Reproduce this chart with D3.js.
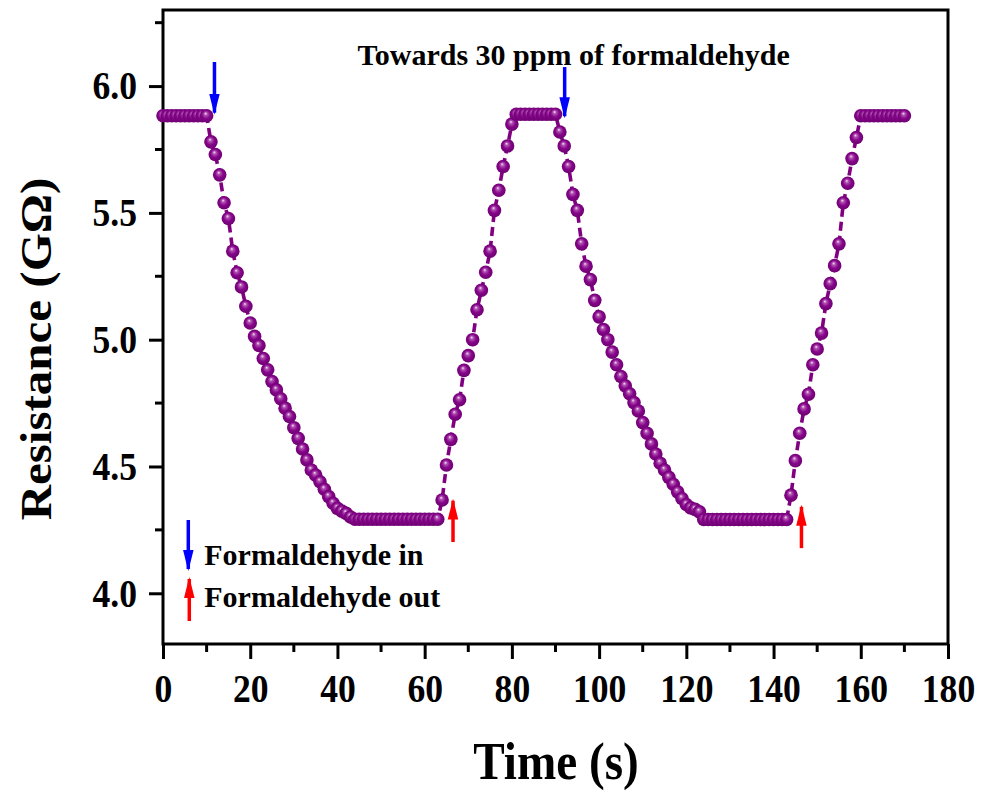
<!DOCTYPE html>
<html>
<head>
<meta charset="utf-8">
<script src="https://cdn.jsdelivr.net/npm/d3@7"></script>
<style>
  html, body { margin: 0; padding: 0; background: #fff; }
  svg { display: block; }
  text { font-family: "Liberation Serif", "Times New Roman", serif; font-weight: bold; fill: #000; }
</style>
</head>
<body>
<svg id="chart" width="982" height="791"></svg>
<script>
// Sensor response: time (s) and resistance (GΩ)
const timeS = [
  0,1,2,3,4,5,6,7,8,9,10,11,12,13,14,15,16,17,18,19,
  20,21,22,23,24,25,26,27,28,29,30,31,32,33,34,35,36,37,38,39,
  40,41,42,43,44,45,46,47,48,49,50,51,52,53,54,55,56,57,58,59,
  60,61,62,63,64,65,66,67,68,69,70,71,72,73,74,75,76,77,78,79,
  80,81,82,83,84,85,86,87,88,89,90,91,92,93,94,95,96,97,98,99,
  100,101,102,103,104,105,106,107,108,109,110,111,112,113,114,115,116,117,118,119,
  120,121,122,123,124,125,126,127,128,129,130,131,132,133,134,135,136,137,138,139,
  140,141,142,143,144,145,146,147,148,149,150,151,152,153,154,155,156,157,158,159,
  160,161,162,163,164,165,166,167,168,169,170
];
const resistanceGOhm = [
  5.883,5.883,5.883,5.883,5.883,5.883,5.883,5.883,5.883,5.883,5.883,
  5.780,5.730,5.650,5.540,5.478,5.349,5.264,5.208,5.132,5.066,
  5.013,4.977,4.926,4.881,4.835,4.802,4.767,4.730,4.697,4.653,
  4.611,4.569,4.526,4.486,4.466,4.440,4.410,4.381,4.355,4.335,
  4.324,4.315,4.301,
  4.292,4.292,4.292,4.292,4.292,4.292,4.292,4.292,4.292,4.292,
  4.292,4.292,4.292,4.292,4.292,4.292,4.292,4.292,4.292,4.292,
  4.368,4.506,4.607,4.706,4.763,4.879,4.937,5.000,5.118,5.195,
  5.266,5.349,5.510,5.589,5.683,5.764,5.850,
  5.889,5.889,5.889,5.889,5.889,5.889,5.889,5.889,5.889,5.889,
  5.819,5.764,5.683,5.573,5.510,5.378,5.290,5.237,5.155,5.090,
  5.040,5.000,4.951,4.901,4.855,4.818,4.787,4.752,4.719,4.673,
  4.631,4.589,4.549,4.513,4.486,4.457,4.430,4.400,4.374,4.350,
  4.337,4.331,4.321,
  4.291,4.291,4.291,4.291,4.291,4.291,4.291,4.291,4.291,4.291,
  4.291,4.291,4.291,4.291,4.291,4.291,4.291,4.291,4.291,4.291,
  4.387,4.523,4.631,4.727,4.785,4.901,4.963,5.026,5.142,5.221,
  5.292,5.378,5.540,5.617,5.714,5.797,
  5.883,5.883,5.883,5.883,5.883,5.883,5.883,5.883,5.883,5.883,5.883
];

// Axis ticks
const xMajorTicks = [0, 20, 40, 60, 80, 100, 120, 140, 160, 180];
const xMinorTicks = [10, 30, 50, 70, 90, 110, 130, 150, 170];
const yMajorTicks = [4.0, 4.5, 5.0, 5.5, 6.0];
const yMinorTicks = [4.25, 4.75, 5.25, 5.75, 6.25];

// Gas in / out markers: [time, start value, tip value]
const gasInTimes  = [11.8, 92.1];
const gasInFrom   = [6.095, 6.075];
const gasInTo     = [5.895, 5.881];
const gasOutTimes = [66.5, 146.4];
const gasOutFrom  = [4.202, 4.178];
const gasOutTo    = [4.365, 4.341];

const legendLabels = ["Formaldehyde in", "Formaldehyde out"];
const noteText = "Towards 30 ppm of formaldehyde";

const data = timeS.map((t, i) => ({ t, r: resistanceGOhm[i] }));

const W = 982, H = 791;
const margin = { top: 10, right: 34, bottom: 147, left: 163 };
const iw = W - margin.left - margin.right;
const ih = H - margin.top - margin.bottom;
const squeeze = 0.89;   // narrow letterforms for the large labels
const serif = '"Liberation Serif", "Times New Roman", serif';

const svg = d3.select("#chart");
const defs = svg.append("defs");

// Glossy sphere fill for the markers
const grad = defs.append("radialGradient")
  .attr("id", "ball").attr("cx", "50%").attr("cy", "50%").attr("r", "55%")
  .attr("fx", "42%").attr("fy", "32%");
grad.append("stop").attr("offset", "0%").attr("stop-color", "#f6e6f6");
grad.append("stop").attr("offset", "22%").attr("stop-color", "#b050b0");
grad.append("stop").attr("offset", "55%").attr("stop-color", "#85058a");
grad.append("stop").attr("offset", "100%").attr("stop-color", "#6a006c");

// Long narrow arrow heads
function addHead(id, color) {
  defs.append("marker")
    .attr("id", id).attr("viewBox", "0 0 20 10")
    .attr("refX", 18).attr("refY", 5)
    .attr("markerWidth", 6).attr("markerHeight", 3.2)
    .attr("markerUnits", "strokeWidth")
    .attr("orient", "auto")
    .append("path").attr("d", "M0,0 L20,5 L0,10 Z").attr("fill", color);
}
addHead("headBlue", "#0000ff");
addHead("headRed", "#ff0000");

const g = svg.append("g").attr("transform", `translate(${margin.left},${margin.top})`);

const x = d3.scaleLinear().domain([0, 180]).range([0, iw]);
const y = d3.scaleLinear().domain([3.8, 6.3]).range([ih, 0]);

// Bottom axis
const xAxis = g.append("g").attr("transform", `translate(0,${ih})`)
  .call(d3.axisBottom(x).tickValues(xMajorTicks).tickSize(15).tickPadding(15)
    .tickSizeOuter(0).tickFormat(d3.format("d")));
xAxis.append("g").selectAll("line").data(xMinorTicks).join("line")
  .attr("x1", d => x(d)).attr("x2", d => x(d)).attr("y1", 0).attr("y2", 8);

// Left axis
const yAxis = g.append("g")
  .call(d3.axisLeft(y).tickValues(yMajorTicks).tickSize(14).tickPadding(12)
    .tickSizeOuter(0).tickFormat(d3.format(".1f")));
yAxis.append("g").selectAll("line").data(yMinorTicks).join("line")
  .attr("x1", 0).attr("x2", -8).attr("y1", d => y(d)).attr("y2", d => y(d));

[xAxis, yAxis].forEach(ax => {
  ax.select(".domain").remove();
  ax.selectAll("line").attr("stroke", "#000").attr("stroke-width", 3);
  ax.selectAll("text").attr("font-size", 40)
    .attr("font-family", serif).attr("font-weight", "bold")
    .each(function () {
      const t = d3.select(this);
      const tx = +t.attr("x") || 0;
      t.attr("x", 0).attr("transform", `translate(${tx},0) scale(${squeeze},1)`);
    });
});

// Frame
g.append("rect").attr("x", 0).attr("y", 0).attr("width", iw).attr("height", ih)
  .attr("fill", "none").attr("stroke", "#000").attr("stroke-width", 3);

// Connecting line
g.append("path").datum(data)
  .attr("fill", "none").attr("stroke", "#800080").attr("stroke-width", 3.6)
  .attr("stroke-dasharray", "9,5")
  .attr("d", d3.line().x(d => x(d.t)).y(d => y(d.r)));

// Markers
g.append("g").selectAll("circle").data(data).join("circle")
  .attr("cx", d => x(d.t)).attr("cy", d => y(d.r)).attr("r", 6.8)
  .attr("fill", "url(#ball)");

// Gas in / out arrows
function arrows(times, from, to, color, head) {
  g.append("g").selectAll("line").data(times).join("line")
    .attr("x1", d => x(d)).attr("x2", d => x(d))
    .attr("y1", (d, i) => y(from[i])).attr("y2", (d, i) => y(to[i]))
    .attr("stroke", color).attr("stroke-width", 3.5)
    .attr("marker-end", `url(#${head})`);
}
arrows(gasInTimes, gasInFrom, gasInTo, "#0000ff", "headBlue");
arrows(gasOutTimes, gasOutFrom, gasOutTo, "#ff0000", "headRed");

// Note above the second cycle
g.append("text").attr("x", x(44.6)).attr("y", 55)
  .attr("font-size", 30).text(noteText);

// Legend
const legend = g.append("g").attr("transform", `translate(${x(5.8)},0)`);
legend.append("line").attr("x1", 0).attr("x2", 0).attr("y1", 510).attr("y2", 559)
  .attr("stroke", "#0000ff").attr("stroke-width", 3.5).attr("marker-end", "url(#headBlue)");
legend.append("line").attr("x1", 1).attr("x2", 1).attr("y1", 611).attr("y2", 569)
  .attr("stroke", "#ff0000").attr("stroke-width", 3.5).attr("marker-end", "url(#headRed)");
legend.selectAll("text").data(legendLabels).join("text")
  .attr("x", 16).attr("y", (d, i) => 555 + i * 42)
  .attr("font-size", 30).text(d => d);

// Axis titles
svg.append("text").attr("transform", `translate(556,779) scale(${squeeze},1)`)
  .attr("text-anchor", "middle").attr("font-size", 53).text("Time (s)");
svg.append("text").attr("transform", `translate(51,349) rotate(-90) scale(1,${squeeze})`)
  .attr("text-anchor", "middle").attr("font-size", 49).text("Resistance (GΩ)");
</script>
</body>
</html>
